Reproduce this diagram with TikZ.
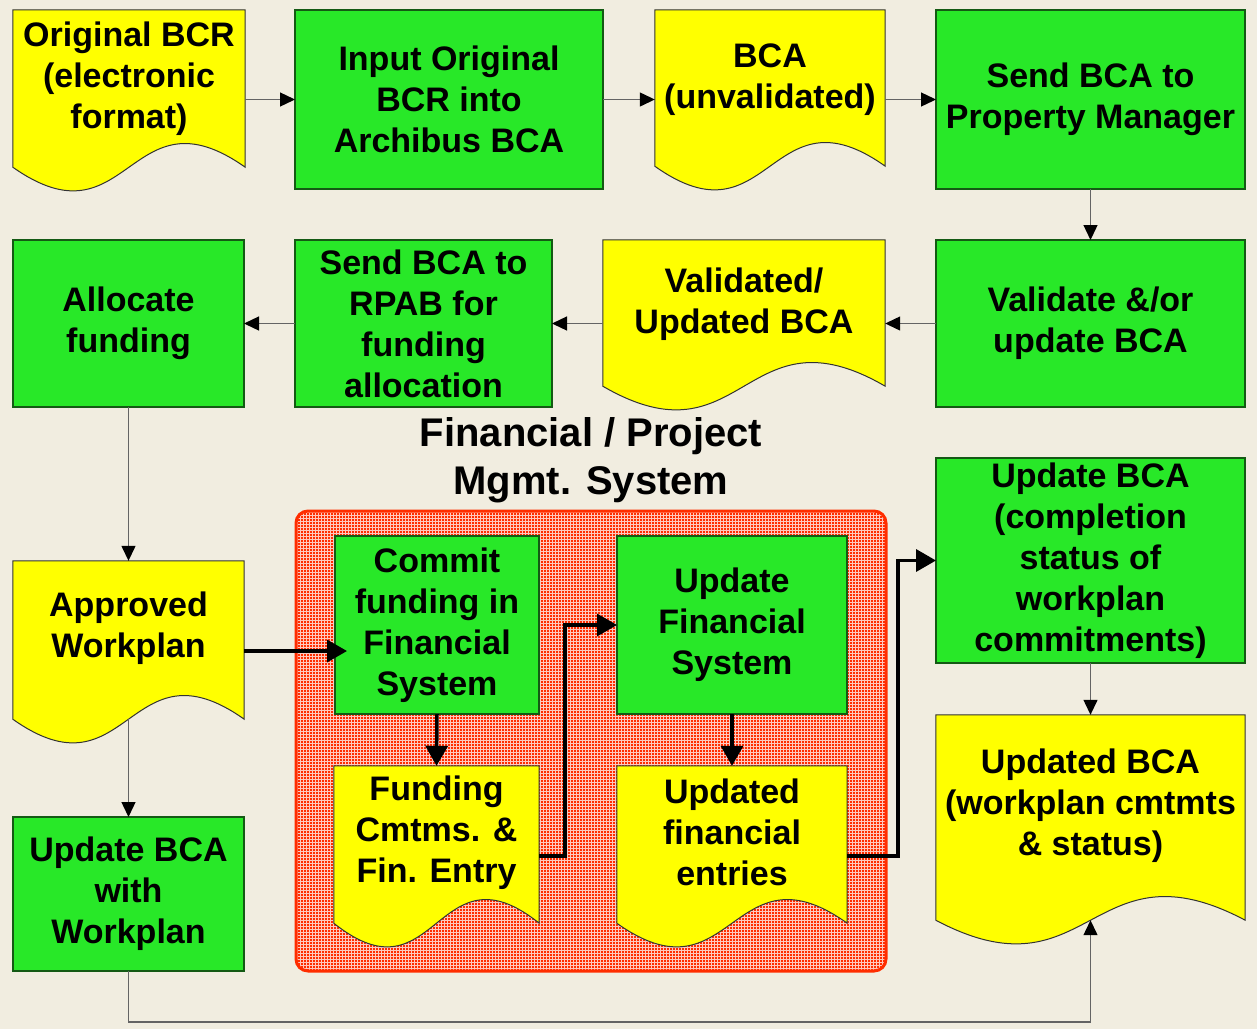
\documentclass[tikz,border=0pt]{standalone}
\usepackage{fontspec}
\setmainfont{Liberation Sans}
\usetikzlibrary{arrows.meta,fit,calc}
\definecolor{bg}{RGB}{241,237,224}
\definecolor{gfill}{RGB}{40,232,40}
\definecolor{gdraw}{RGB}{20,90,20}
\definecolor{yfill}{RGB}{255,255,0}
\definecolor{rfill}{RGB}{255,45,0}
\definecolor{rgrid}{RGB}{255,200,190}
\definecolor{conn}{RGB}{100,100,100}

\newcommand\docnode[7]{%
  \node[fit={(#2,#3) (#4,#5)}, inner sep=0pt] (#1) {};
  \path[docshape] (#1.north west) -- (#1.north east) -- (#1.south east)
     .. controls ([yshift=82pt]#1.south) and ([yshift=-82pt]#1.south) .. (#1.south west) -- cycle;
  \node[txt] (#1t) at ([yshift=#6pt]#1.center) {#7};
}
\newcommand\gbox[6]{%
  \node[greenbox, minimum width={(#4-#2)*1pt}, minimum height={(#5-#3)*1pt}]
     (#1) at ({(#2+#4)/2},{(#3+#5)/2}) {#6};
}

\begin{document}
\begin{tikzpicture}[x=1pt,y=-1pt,
  txt/.style={font=\fontsize{34}{41}\selectfont\bfseries, align=center, inner sep=0pt},
  greenbox/.style={draw=gdraw, line width=1.2pt, fill=gfill, inner sep=0pt, outer sep=0pt, txt},
  docshape/.style={draw=black!80, line width=1pt, fill=yfill},
  thinconn/.style={draw=conn, line width=1.3pt, -{Triangle[length=15pt,width=14pt,color=black]}},
  thickconn/.style={draw=black, line width=3.5pt, -{Triangle[length=20pt,width=22pt]}},
]
\useasboundingbox (0,0) rectangle (1257,1029);
\fill[bg] (0,0) rectangle (1257,1029);

% container
\begin{scope}
  \clip[rounded corners=12pt] (296,511) rectangle (886,971);
  \fill[rfill] (296,511) rectangle (886,971);
  \foreach \x in {297.5,300.5,...,886} \draw[rgrid, line width=0.6pt] (\x,511) -- (\x,971);
  \foreach \y in {512.5,515.5,...,971} \draw[rgrid, line width=0.6pt] (296,\y) -- (886,\y);
\end{scope}
\node[fit={(296,511) (886,971)}, inner sep=0pt, draw=rfill, rounded corners=12pt, line width=3pt] (fin) {};
\node[font=\fontsize{40}{48}\selectfont\bfseries, align=center, inner sep=0pt] (title) at (591,460) {Financial / Project\\Mgmt. System};

% documents
\docnode{d1}{13}{10}{245}{167}{10}{Original BCR\\(electronic\\format)}
\docnode{d3}{655}{10}{885}{166}{8}{BCA\\(unvalidated)}
\docnode{d6}{603}{240}{885}{386}{9}{Validated/\\Updated BCA}
\docnode{d9}{13}{561}{244}{719}{12}{Approved\\Workplan}
\docnode{d14}{334}{766}{539}{923}{12}{Funding\\Cmtms. \&\\Fin. Entry}
\docnode{d15}{617}{766}{847}{923}{12}{Updated\\financial\\entries}
\docnode{d13}{936}{715}{1245}{920}{12}{Updated BCA\\(workplan cmtmts\\\& status)}

% process boxes
\gbox{g2}{295}{10}{603}{189}{Input Original\\BCR into\\Archibus BCA}
\gbox{g4}{936}{10}{1245}{189}{Send BCA to\\Property Manager}
\gbox{g5}{936}{240}{1245}{407}{Validate \&/or\\update BCA}
\gbox{g7}{295}{240}{552}{407}{Send BCA to\\RPAB for\\funding\\allocation}
\gbox{g8}{13}{240}{244}{407}{Allocate\\funding}
\gbox{g10}{335}{536}{539}{714}{Commit\\funding in\\Financial\\System}
\gbox{g11}{617}{536}{847}{714}{Update\\Financial\\System}
\gbox{g12}{936}{458}{1245}{663}{Update BCA\\(completion\\status of\\workplan\\commitments)}
\gbox{g16}{13}{817}{244}{971}{Update BCA\\with\\Workplan}

% thin connectors
\draw[thinconn] (d1.east |- g2.west) -- (g2.west);
\draw[thinconn] (g2.east) -- (d3.west |- g2.east);
\draw[thinconn] (d3.east |- g4.west) -- (g4.west);
\draw[thinconn] (g4.south) -- (g5.north);
\draw[thinconn] (g5.west) -- (d6.east |- g5.west);
\draw[thinconn] (d6.west |- g7.east) -- (g7.east);
\draw[thinconn] (g7.west) -- (g8.east);
\draw[thinconn] (g8.south) -- (d9.north);
\draw[thinconn] (d9.south) -- (g16.north);
\draw[thinconn] (g12.south) -- (d13.north);
\coordinate (bend) at (0,1022);
\draw[thinconn] (g16.south) -- (g16.south |- bend) -| (d13.south);

% thick connectors
\coordinate (a910) at (0,651);
\coordinate (j1) at (565,856);
\coordinate (j2) at (898,856);
\draw[thickconn, shorten >=-12pt] (d9.east |- a910) -- (g10.west |- a910);
\draw[thickconn] (g10.south) -- (d14.north);
\draw[thickconn] (d14.east |- j1) -- (j1) |- (g11.west);
\draw[thickconn] (g11.south) -- (d15.north);
\draw[thickconn] (d15.east |- j2) -- (j2) |- (g12.west);
\end{tikzpicture}
\end{document}
